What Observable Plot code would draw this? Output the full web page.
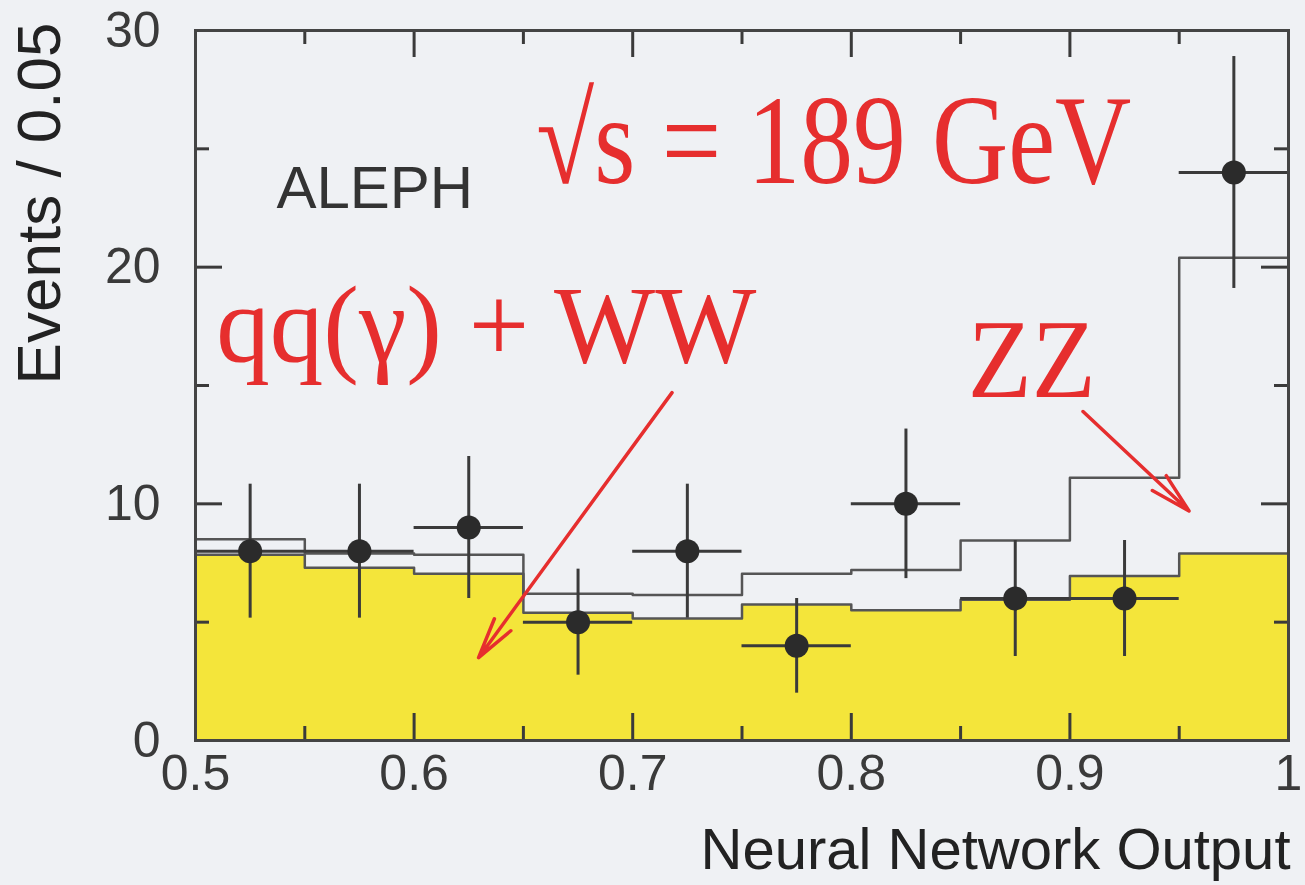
<!DOCTYPE html>
<html>
<head>
<meta charset="utf-8">
<script src="https://cdn.jsdelivr.net/npm/d3@7"></script>
<script src="https://cdn.jsdelivr.net/npm/@observablehq/plot@0.6"></script>
<style>
  html, body { margin: 0; padding: 0; background: #eff1f4; }
</style>
</head>
<body>
<div id="chart"></div>
<script>
// ---- data ----
const binEdges = [0.50, 0.55, 0.60, 0.65, 0.70, 0.75, 0.80, 0.85, 0.90, 0.95, 1.00];
const qqWW     = [7.85, 7.30, 7.05, 5.40, 5.15, 5.75, 5.50, 5.95, 6.95, 7.90];   // qq(γ) + WW background
const totalMC  = [8.50, 7.90, 7.85, 6.20, 6.15, 7.05, 7.20, 8.45, 11.10, 20.40]; // background + ZZ
const dataX    = [0.525, 0.575, 0.625, 0.675, 0.725, 0.775, 0.825, 0.875, 0.925, 0.975];
const dataN    = [8, 8, 9, 5, 8, 4, 10, 6, 6, 24];
const dataErr  = [2.83, 2.83, 3.00, 2.24, 2.83, 2.00, 3.16, 2.45, 2.45, 4.90];

const xMajor = [0.5, 0.6, 0.7, 0.8, 0.9, 1.0];
const xTickLabels = ["0.5", "0.6", "0.7", "0.8", "0.9", "1"];
const xMinor = [0.55, 0.65, 0.75, 0.85, 0.95];
const yMajor = [0, 10, 20, 30];
const yTickLabels = ["0", "10", "20", "30"];
const yMinor = [5, 15, 25];

const xTitle = "Neural Network Output";
const yTitle = "Events / 0.05";
const expLabel = "ALEPH";
const energyLabel = "√s = 189 GeV";
const bkgLabel = "qq(γ) + WW";
const sigLabel = "ZZ";

// annotation anchors (data units)
const expPos    = [0.537, 22.5];
const energyPos = [0.792, 23.55];
const bkgPos    = [0.633, 16.0];
const sigPos    = [0.8825, 14.5];
const arrowFrom = [[0.718, 14.7], [0.906, 13.9]];
const arrowTo   = [[0.6295, 3.5], [0.9545, 9.7]];

// ---- derived tables ----
const steps = binEdges.map((e, i) => ({x: e, bkg: qqWW[Math.min(i, qqWW.length - 1)], tot: totalMC[Math.min(i, totalMC.length - 1)]}));
const points = dataX.map((x, i) => ({x, n: dataN[i], lo: dataN[i] - dataErr[i], hi: dataN[i] + dataErr[i], x1: binEdges[i], x2: binEdges[i + 1]}));
const arrows = arrowFrom.map((f, i) => ({x1: f[0], y1: f[1], x2: arrowTo[i][0], y2: arrowTo[i][1]}));

// ---- layout ----
const W = 1305, H = 885;
const mL = 195, mR = 17, mT = 30, mB = 145;
const innerW = W - mL - mR, innerH = H - mT - mB;
const majLen = 27, minLen = 14;
const ink = "#3a3a3a";
const red = "#e62e2e";
const yellow = "#f4e53a";
const sans = "'Liberation Sans', Arial, Helvetica, sans-serif";
const serif = "'Liberation Serif', 'Times New Roman', serif";

const svg = Plot.plot({
  width: W, height: H,
  marginLeft: mL, marginRight: mR, marginTop: mT, marginBottom: mB,
  x: {domain: [0.5, 1.0]},
  y: {domain: [0, 30]},
  style: {background: "#eff1f4", fontFamily: sans, color: ink, overflow: "visible"},
  marks: [
    Plot.areaY(steps, {x: "x", y: "bkg", curve: "step-after", fill: yellow}),
    Plot.line(steps, {x: "x", y: "bkg", curve: "step-after", stroke: "#555", strokeWidth: 2.5}),
    Plot.line(steps, {x: "x", y: "tot", curve: "step-after", stroke: "#555", strokeWidth: 2.5}),
    Plot.ruleX(points, {x: "x", y1: "lo", y2: "hi", stroke: ink, strokeWidth: 3}),
    Plot.ruleY(points, {y: "n", x1: "x1", x2: "x2", stroke: ink, strokeWidth: 3}),
    Plot.dot(points, {x: "x", y: "n", r: 12, fill: "#2b2b2b", stroke: "none"}),
    // inward ticks on four sides
    Plot.tickX(xMajor, {x: d => d, insetTop: innerH - majLen, stroke: ink, strokeWidth: 3}),
    Plot.tickX(xMinor, {x: d => d, insetTop: innerH - minLen, stroke: ink, strokeWidth: 3}),
    Plot.tickX(xMajor, {x: d => d, insetBottom: innerH - majLen, stroke: ink, strokeWidth: 3}),
    Plot.tickX(xMinor, {x: d => d, insetBottom: innerH - minLen, stroke: ink, strokeWidth: 3}),
    Plot.tickY(yMajor, {y: d => d, insetRight: innerW - majLen, stroke: ink, strokeWidth: 3}),
    Plot.tickY(yMinor, {y: d => d, insetRight: innerW - minLen, stroke: ink, strokeWidth: 3}),
    Plot.tickY(yMajor, {y: d => d, insetLeft: innerW - majLen, stroke: ink, strokeWidth: 3}),
    Plot.tickY(yMinor, {y: d => d, insetLeft: innerW - minLen, stroke: ink, strokeWidth: 3}),
    Plot.frame({stroke: "#444", strokeWidth: 3}),
    Plot.axisX(xMajor, {tickSize: 0, tickPadding: 14, fontSize: 50, label: null,
      tickFormat: d => xTickLabels[xMajor.indexOf(d)]}),
    Plot.axisY(yMajor, {tickSize: 0, tickPadding: 35, fontSize: 50, label: null,
      tickFormat: d => yTickLabels[yMajor.indexOf(d)]}),
    Plot.text([xTitle], {text: d => d, frameAnchor: "bottom-right", dx: 2, dy: 128,
      textAnchor: "end", lineAnchor: "bottom", fontSize: 58, fill: "#222"}),
    Plot.text([yTitle], {text: d => d, frameAnchor: "top-left", dx: -155, dy: -8, rotate: -90,
      textAnchor: "end", lineAnchor: "middle", fontSize: 62, fill: "#222"}),
    Plot.text([expLabel], {text: d => d, x: expPos[0], y: expPos[1], textAnchor: "start",
      lineAnchor: "bottom", fontSize: 60, fill: "#333"}),
    Plot.text([energyLabel], {text: d => d, x: energyPos[0], y: energyPos[1], textAnchor: "middle",
      lineAnchor: "bottom", fontSize: 127, fontFamily: serif, fill: red}),
    Plot.text([bkgLabel], {text: d => d, x: bkgPos[0], y: bkgPos[1], textAnchor: "middle",
      lineAnchor: "bottom", fontSize: 110, fontFamily: serif, fill: red}),
    Plot.text([sigLabel], {text: d => d, x: sigPos[0], y: sigPos[1], textAnchor: "middle",
      lineAnchor: "bottom", fontSize: 112, fontFamily: serif, fill: red}),
    Plot.arrow(arrows, {x1: "x1", y1: "y1", x2: "x2", y2: "y2", stroke: red, strokeWidth: 3.5,
      headLength: 18, headAngle: 28})
  ]
});

document.getElementById("chart").append(svg);

// condense the serif annotation labels to the reference widths
const fitWidths = new Map([[energyLabel, 595], [bkgLabel, 540], [sigLabel, 128]]);
svg.querySelectorAll("text").forEach(t => {
  const w = fitWidths.get(t.textContent);
  if (w) { t.setAttribute("textLength", w); t.setAttribute("lengthAdjust", "spacingAndGlyphs"); }
});
</script>
</body>
</html>
